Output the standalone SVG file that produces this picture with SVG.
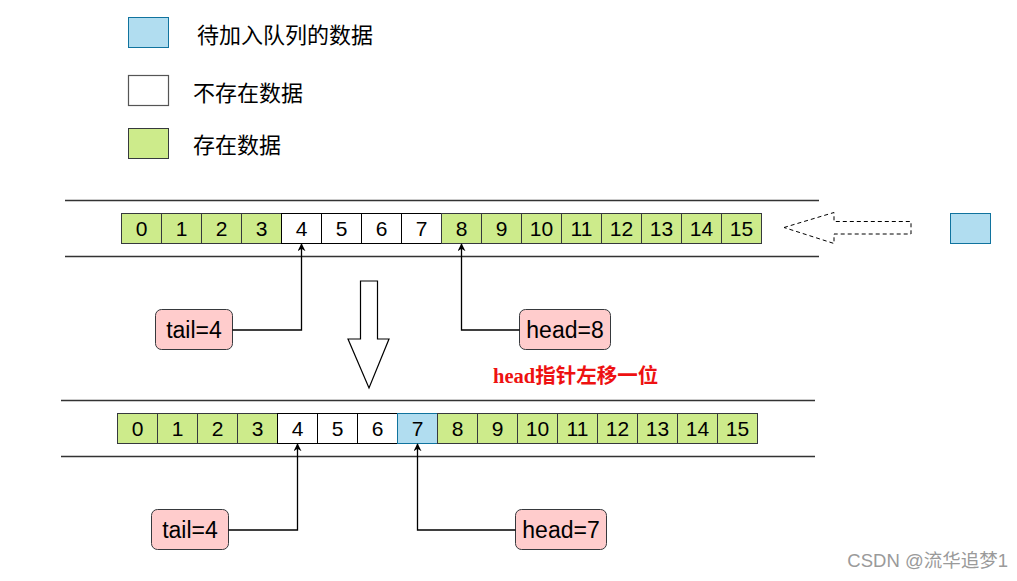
<svg xmlns="http://www.w3.org/2000/svg" width="1017" height="581" viewBox="0 0 1017 581">
<defs>
<style>
.g{fill:#cdeb8b;stroke:#36393d;stroke-width:1}
.w{fill:#ffffff;stroke:#000000;stroke-width:1}
.b{fill:#b1ddf0;stroke:#10739e;stroke-width:1}
.p{fill:#ffcccc;stroke:#36393d;stroke-width:1}
.t{font-family:"Liberation Sans",Arial,sans-serif;font-size:21px;fill:#000;text-anchor:middle;dominant-baseline:central}
.pl{font-family:"Liberation Sans",Arial,sans-serif;font-size:23px;fill:#000;text-anchor:middle;dominant-baseline:central}
.lg{font-family:"Noto Sans CJK SC",sans-serif;font-size:22px;fill:#000;dominant-baseline:central}
.rail{stroke:#333;stroke-width:1.5;fill:none}
.con{stroke:#000;stroke-width:1.3;fill:none;marker-end:url(#ah)}
</style>
<marker id="ah" viewBox="0 0 10 10" refX="9" refY="5" markerWidth="8" markerHeight="8" markerUnits="userSpaceOnUse" orient="auto">
<path d="M0,0 L10,5 L0,10 L3,5 Z" fill="#000"/>
</marker>
</defs>
<rect width="1017" height="581" fill="#fff"/>

<g id="legend">
<g id="legend-blue"><rect x="128.5" y="17.5" width="40" height="30" class="b"/><text x="197" y="33" class="lg">待加入队列的数据</text></g>
<g id="legend-white"><rect x="128.5" y="75.5" width="40" height="30" fill="#fff" stroke="#555" stroke-width="1.2"/><text x="193" y="91" class="lg">不存在数据</text></g>
<g id="legend-green"><rect x="128.5" y="128.5" width="40" height="30" class="g"/><text x="193" y="143" class="lg">存在数据</text></g>
</g>

<g id="rails">
<line x1="65" y1="200.5" x2="819" y2="200.5" class="rail"/>
<line x1="65" y1="256.5" x2="819" y2="256.5" class="rail"/>
<line x1="61" y1="400.5" x2="815" y2="400.5" class="rail"/>
<line x1="61" y1="456.5" x2="815" y2="456.5" class="rail"/>
</g>

<g id="array-top">
<rect x="121.5" y="213.5" width="40" height="30" class="g"/><text x="141.5" y="228.5" class="t">0</text>
<rect x="161.5" y="213.5" width="40" height="30" class="g"/><text x="181.5" y="228.5" class="t">1</text>
<rect x="201.5" y="213.5" width="40" height="30" class="g"/><text x="221.5" y="228.5" class="t">2</text>
<rect x="241.5" y="213.5" width="40" height="30" class="g"/><text x="261.5" y="228.5" class="t">3</text>
<rect x="281.5" y="213.5" width="40" height="30" class="w"/><text x="301.5" y="228.5" class="t">4</text>
<rect x="321.5" y="213.5" width="40" height="30" class="w"/><text x="341.5" y="228.5" class="t">5</text>
<rect x="361.5" y="213.5" width="40" height="30" class="w"/><text x="381.5" y="228.5" class="t">6</text>
<rect x="401.5" y="213.5" width="40" height="30" class="w"/><text x="421.5" y="228.5" class="t">7</text>
<rect x="441.5" y="213.5" width="40" height="30" class="g"/><text x="461.5" y="228.5" class="t">8</text>
<rect x="481.5" y="213.5" width="40" height="30" class="g"/><text x="501.5" y="228.5" class="t">9</text>
<rect x="521.5" y="213.5" width="40" height="30" class="g"/><text x="541.5" y="228.5" class="t">10</text>
<rect x="561.5" y="213.5" width="40" height="30" class="g"/><text x="581.5" y="228.5" class="t">11</text>
<rect x="601.5" y="213.5" width="40" height="30" class="g"/><text x="621.5" y="228.5" class="t">12</text>
<rect x="641.5" y="213.5" width="40" height="30" class="g"/><text x="661.5" y="228.5" class="t">13</text>
<rect x="681.5" y="213.5" width="40" height="30" class="g"/><text x="701.5" y="228.5" class="t">14</text>
<rect x="721.5" y="213.5" width="40" height="30" class="g"/><text x="741.5" y="228.5" class="t">15</text>
</g>

<g id="incoming">
<path d="M784,227.5 L834,212.5 L834,221.5 L911,221.5 L911,234 L834,234 L834,243.5 Z" fill="none" stroke="#000" stroke-width="1" stroke-dasharray="4,3"/>
<rect x="950.5" y="213.5" width="40" height="30" class="b"/>
</g>

<g id="tail-top"><rect x="155.5" y="309.5" width="77" height="40" rx="6" class="p"/><text x="194" y="330" class="pl">tail=4</text></g>
<g id="head-top"><rect x="519.5" y="309.5" width="91" height="40" rx="6" class="p"/><text x="565" y="330" class="pl">head=8</text></g>

<g id="down-arrow">
<path d="M360.5,281 L377.5,281 L377.5,339 L389,339 L369,388 L348,339 L360.5,339 Z" fill="#fff" stroke="#000" stroke-width="1.2"/>
</g>

<g id="note"><text x="493" y="383" font-family="'Liberation Serif','Noto Sans CJK SC',serif" font-size="20.5" font-weight="bold" fill="#ee1111">head指针左移一位</text></g>

<g id="array-bottom">
<rect x="117.5" y="413.5" width="40" height="30" class="g"/><text x="137.5" y="428.5" class="t">0</text>
<rect x="157.5" y="413.5" width="40" height="30" class="g"/><text x="177.5" y="428.5" class="t">1</text>
<rect x="197.5" y="413.5" width="40" height="30" class="g"/><text x="217.5" y="428.5" class="t">2</text>
<rect x="237.5" y="413.5" width="40" height="30" class="g"/><text x="257.5" y="428.5" class="t">3</text>
<rect x="277.5" y="413.5" width="40" height="30" class="w"/><text x="297.5" y="428.5" class="t">4</text>
<rect x="317.5" y="413.5" width="40" height="30" class="w"/><text x="337.5" y="428.5" class="t">5</text>
<rect x="357.5" y="413.5" width="40" height="30" class="w"/><text x="377.5" y="428.5" class="t">6</text>
<rect x="397.5" y="413.5" width="40" height="30" class="b"/><text x="417.5" y="428.5" class="t">7</text>
<rect x="437.5" y="413.5" width="40" height="30" class="g"/><text x="457.5" y="428.5" class="t">8</text>
<rect x="477.5" y="413.5" width="40" height="30" class="g"/><text x="497.5" y="428.5" class="t">9</text>
<rect x="517.5" y="413.5" width="40" height="30" class="g"/><text x="537.5" y="428.5" class="t">10</text>
<rect x="557.5" y="413.5" width="40" height="30" class="g"/><text x="577.5" y="428.5" class="t">11</text>
<rect x="597.5" y="413.5" width="40" height="30" class="g"/><text x="617.5" y="428.5" class="t">12</text>
<rect x="637.5" y="413.5" width="40" height="30" class="g"/><text x="657.5" y="428.5" class="t">13</text>
<rect x="677.5" y="413.5" width="40" height="30" class="g"/><text x="697.5" y="428.5" class="t">14</text>
<rect x="717.5" y="413.5" width="40" height="30" class="g"/><text x="737.5" y="428.5" class="t">15</text>
</g>

<g id="tail-bottom"><rect x="151.5" y="509.5" width="77" height="40" rx="6" class="p"/><text x="190" y="530" class="pl">tail=4</text></g>
<g id="head-bottom"><rect x="515.5" y="509.5" width="91" height="40" rx="6" class="p"/><text x="561" y="530" class="pl">head=7</text></g>

<g id="connectors">
<path d="M232.5,330 L301.5,330 L301.5,244" class="con"/>
<path d="M519.5,330 L461.5,330 L461.5,244" class="con"/>
<path d="M228.5,530 L297.5,530 L297.5,444" class="con"/>
<path d="M515.5,530 L417.5,530 L417.5,444" class="con"/>
</g>

<text x="1008" y="567" text-anchor="end" font-family="'Liberation Sans','Noto Sans CJK SC',sans-serif" font-size="18.5" fill="#9a9a9a">CSDN @流华追梦1</text>
</svg>
